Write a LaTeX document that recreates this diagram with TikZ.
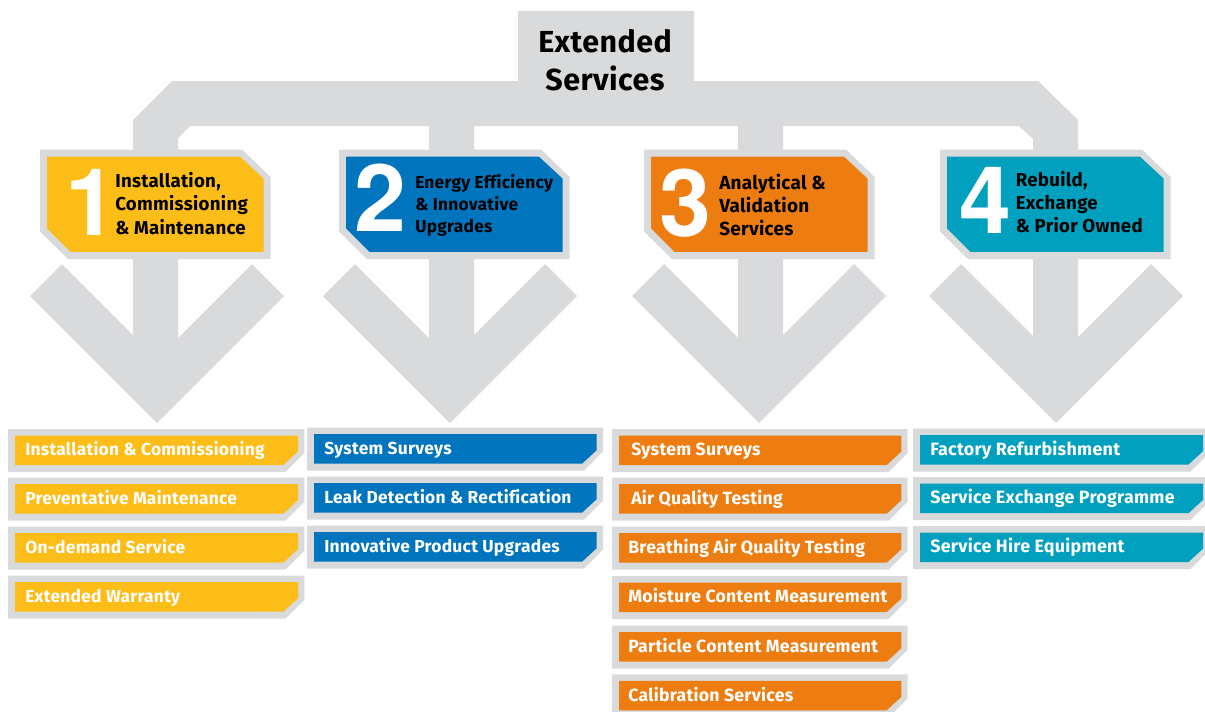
\documentclass[tikz,border=0pt]{standalone}
\usepackage{fontspec}
\setmainfont{Fira Sans}
\definecolor{panel}{HTML}{D9DADC}
\definecolor{cyellow}{HTML}{FDBD18}
\definecolor{cblue}{HTML}{0075BE}
\definecolor{corange}{HTML}{EE7D11}
\definecolor{cteal}{HTML}{00A0BE}
\newfontface\hfont[LetterSpace=1.5,Ligatures=NoCommon]{Fira Sans Bold}
\newfontfamily\numfam{TeX Gyre Heros}
\def\itemsize{13.2}
\tikzset{
  x=0.75pt,y=-0.75pt,
  itemtext/.style={anchor=base west,inner sep=0pt,text=white,font=\fontsize{\itemsize}{15}\hfont},
  headtext/.style={anchor=base west,inner sep=0pt,text=black,align=left,font=\fontsize{#1}{17.3}\hfont},
  headtext/.default=14,
  bignum/.style={anchor=base,inner sep=0pt,text=white,font=\fontsize{70}{70}\numfam\bfseries},
  toptext/.style={anchor=base,inner sep=0pt,text=black,font=\fontsize{22.8}{28}\hfont},
}
% head panel: #1 outer left, #2 colour
\newcommand{\headpanel}[2]{%
  \fill[panel] (#1,149.5) -- (#1+202,149.5) -- (#1+230.5,177) -- (#1+230.5,259) -- (#1+28,259) -- (#1,231.5) -- cycle;
  \fill[#2] (#1+7,156.7) -- (#1+200,156.7) -- (#1+223.5,178.5) -- (#1+223.5,251.8) -- (#1+30.5,251.8) -- (#1+7,228.5) -- cycle;
}
% chevron: #1 stem centre x, #2 arrow centre x
\newcommand{\chevron}[2]{%
  \fill[panel] (#1-22.5,259) -- (#1+22.5,259) -- (#1+22.5,#2-#1+336.5) -- (#2+95,264) -- (#2+127,296) -- (#2,423) -- (#2-127,296) -- (#2-95,264) -- (#1-22.5,#1-#2+336.5) -- cycle;
}
% item: #1 outer left, #2 outer right, #3 top, #4 colour, #5 name, #6 text x, #7 text
\newcommand{\itembox}[7]{%
  \fill[panel] (#1,#3) -- (#2,#3) -- (#2,#3+24) -- (#2-19,#3+43) -- (#1,#3+43) -- cycle;
  \fill[#4] (#1+7,#3+6.5) -- (#2-6.3,#3+6.5) -- (#2-6.3,#3+22.5) -- (#2-21,#3+36) -- (#1+7,#3+36) -- cycle;
  \node[itemtext] (#5) at (#6,#3+26.7) {#7};
}
\begin{document}
\begin{tikzpicture}
\useasboundingbox (0,0) rectangle (1205,711);
% bus
\fill[panel] (133,150) -- (133,120) -- (172,81) -- (518,81) -- (518,11) -- (694,11) -- (694,81) -- (1038,81) -- (1078,120) -- (1078,150) -- (1033,150) -- (1033,139) -- (1019,126) -- (783,126) -- (783,150) -- (738,150) -- (738,126) -- (474,126) -- (474,150) -- (429,150) -- (429,126) -- (190,126) -- (178,138) -- (178,150) -- cycle;
\node[toptext] (t1) at (605,52.5) {Extended};
\node[toptext] (t2) at (605,90.5) {Services};
% chevrons
\chevron{155.5}{157}\chevron{451.5}{450}\chevron{760.5}{759}\chevron{1055.5}{1056}
% heads
\headpanel{40}{cyellow}\headpanel{339}{cblue}\headpanel{644}{corange}\headpanel{940}{cteal}
\node[bignum] (n1) at (91,235) {1};
\node[bignum] (n2) at (380.5,231.7) {2};
\node[bignum] (n3) at (685.5,236) {3};
\node[bignum] (n4) at (985,233) {4};
\node[headtext] (h1) at (115,234) {Installation,\\Commissioning\\\& Maintenance};
\node[anchor=base west,inner sep=0pt,text=black,align=left,font=\fontsize{13}{16.5}\hfont] (h2) at (415,232) {Energy Efficiency\\\& Innovative\\Upgrades};
\node[headtext=14.2] (h3) at (719,235.5) {Analytical \&\\Validation\\Services};
\node[headtext] (h4) at (1015.5,232.7) {Rebuild,\\Exchange\\\& Prior Owned};
% col 1
\def\itemsize{13.05}
\itembox{8}{304.3}{429}{cyellow}{a1}{25}{Installation \& Commissioning}
\itembox{8}{304.3}{477.7}{cyellow}{a2}{25}{Preventative Maintenance}
\itembox{8}{304.3}{526.7}{cyellow}{a3}{25}{On-demand Service}
\itembox{8}{304.3}{575.7}{cyellow}{a4}{25}{Extended Warranty}
% col 2
\itembox{307}{603}{427.7}{cblue}{b1}{324}{System Surveys}
\itembox{307}{603}{476.7}{cblue}{b2}{324}{Leak Detection \& Rectification}
\itembox{307}{603}{525.7}{cblue}{b3}{324}{Innovative Product Upgrades}
% col 3
\def\itemsize{13.25}
\itembox{612}{907.7}{429}{corange}{c1}{631}{System Surveys}
\itembox{612}{907.7}{477.7}{corange}{c2}{631}{Air Quality Testing}
\itembox{612}{907.7}{526.7}{corange}{c3}{628}{Breathing Air Quality Testing}
\itembox{612}{907.7}{576}{corange}{c4}{628}{Moisture Content Measurement}
\itembox{612}{907.7}{625.7}{corange}{c5}{628}{Particle Content Measurement}
\itembox{612}{907.7}{674.3}{corange}{c6}{628}{Calibration Services}
% col 4
\def\itemsize{13.4}
\itembox{913}{1209.5}{428.5}{cteal}{d1}{930}{Factory Refurbishment}
\itembox{913}{1209.5}{477.2}{cteal}{d2}{930}{Service Exchange Programme}
\itembox{913}{1209.5}{526}{cteal}{d3}{930}{Service Hire Equipment}
\end{tikzpicture}
\end{document}
